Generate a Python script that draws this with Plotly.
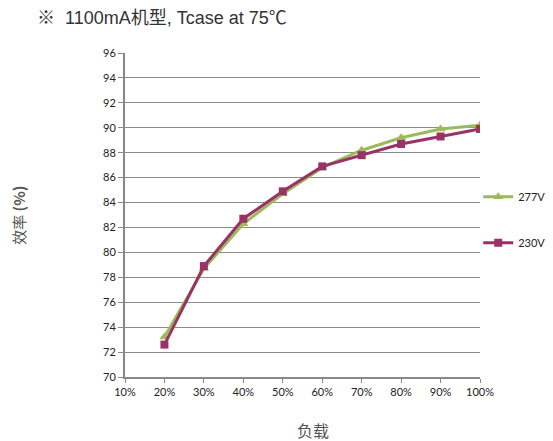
import plotly.graph_objects as go

loads = [20, 30, 40, 50, 60, 70, 80, 90, 100]
tick_vals = [10, 20, 30, 40, 50, 60, 70, 80, 90, 100]
tick_text = ["10%", "20%", "30%", "40%", "50%", "60%", "70%", "80%", "90%", "100%"]
eff_277 = [73.2, 78.7, 82.3, 84.7, 86.8, 88.2, 89.2, 89.9, 90.2]
eff_230 = [72.6, 78.9, 82.7, 84.9, 86.9, 87.8, 88.7, 89.3, 89.9]

green = "#9BBB59"
purple = "#993366"

fig = go.Figure()
fig.add_trace(go.Scatter(x=loads, y=eff_277, name="277V", mode="lines+markers",
                         line=dict(color=green, width=3),
                         marker=dict(symbol="triangle-up", size=9, color=green),
                         legendgroup="a"))
fig.add_trace(go.Scatter(x=loads, y=eff_230, name="230V", mode="lines+markers",
                         line=dict(color=purple, width=3),
                         marker=dict(symbol="square", size=8, color=purple),
                         legendgroup="b"))

axis_font = dict(family="Lato, Open Sans, sans-serif", size=11, color="#222")
fig.update_layout(
    width=545, height=433,
    margin=dict(l=117, r=73, t=45, b=64, autoexpand=False),
    paper_bgcolor="white", plot_bgcolor="white",
    showlegend=True,
    legend=dict(x=0.995, y=0.485, xanchor="left", yanchor="middle",
                font=dict(family="Lato, Open Sans, sans-serif", size=11, color="#222"),
                tracegroupgap=27, itemwidth=30, bgcolor="rgba(0,0,0,0)"),
    xaxis=dict(range=[10, 100], tickvals=tick_vals, ticktext=tick_text,
               showgrid=False, zeroline=False, showline=True, linecolor="#888", linewidth=2,
               ticks="outside", ticklen=4, tickcolor="#888", tickfont=axis_font),
    yaxis=dict(range=[70, 96], dtick=2, showgrid=True, gridcolor="#8c8c8c", gridwidth=1,
               zeroline=False, showline=True, linecolor="#888", linewidth=2,
               ticks="outside", ticklen=5, tickcolor="#888", tickfont=axis_font),
    annotations=[
        dict(text="※  1100mA机型, Tcase at 75℃", xref="paper", yref="paper",
             x=-0.2535, y=1.108, xanchor="left", yanchor="middle", showarrow=False,
             font=dict(family="Liberation Sans, Noto Sans CJK SC, sans-serif", size=18, color="#333")),
        dict(text="效率 <b>(%)</b>", xref="paper", yref="paper", x=-0.302, y=0.5,
             textangle=-90, xanchor="center", yanchor="middle", showarrow=False,
             font=dict(family="Noto Sans CJK SC, sans-serif", size=15, color="#555")),
        dict(text="负载", xref="paper", yref="paper", x=0.53, y=-0.165,
             xanchor="center", yanchor="middle", showarrow=False,
             font=dict(family="Noto Sans CJK SC, sans-serif", size=16, color="#555")),
    ],
)
fig.write_html("out.html")
